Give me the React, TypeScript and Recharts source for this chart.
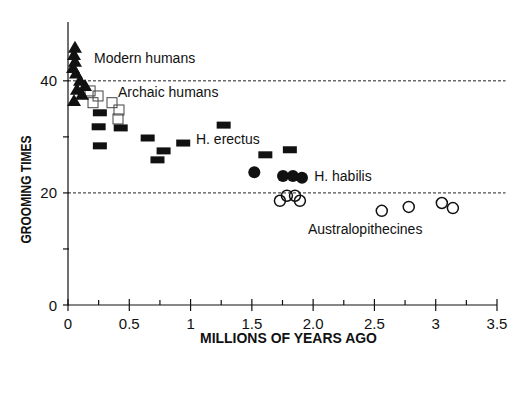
import { Label, ReferenceDot, ReferenceLine, Scatter, ScatterChart, XAxis, YAxis } from "recharts"

// millions of years ago / grooming time (% of day)
const modernHumans = [
  { x: 0.057, y: 45.9 },
  { x: 0.049, y: 44.6 },
  { x: 0.057, y: 43.4 },
  { x: 0.041, y: 42.3 },
  { x: 0.065, y: 41.3 },
  { x: 0.098, y: 40.0 },
  { x: 0.139, y: 39.1 },
  { x: 0.073, y: 38.4 },
  { x: 0.114, y: 37.5 },
  { x: 0.049, y: 36.4 },
]

const archaicHumans = [
  { x: 0.18, y: 38.2 },
  { x: 0.245, y: 37.3 },
  { x: 0.204, y: 36.1 },
  { x: 0.359, y: 36.1 },
  { x: 0.416, y: 34.8 },
  { x: 0.408, y: 33.2 },
]

const erectus = [
  { x: 0.26, y: 34.3 },
  { x: 0.25, y: 31.8 },
  { x: 0.43, y: 31.6 },
  { x: 0.26, y: 28.4 },
  { x: 0.65, y: 29.8 },
  { x: 0.94, y: 28.9 },
  { x: 0.78, y: 27.5 },
  { x: 0.73, y: 25.9 },
  { x: 1.27, y: 32.1 },
  { x: 1.61, y: 26.8 },
  { x: 1.81, y: 27.7 },
]

const habilis = [
  { x: 1.52, y: 23.7 },
  { x: 1.754, y: 23.0 },
  { x: 1.835, y: 23.0 },
  { x: 1.909, y: 22.7 },
]

const australopithecines = [
  { x: 1.729, y: 18.6 },
  { x: 1.786, y: 19.5 },
  { x: 1.852, y: 19.5 },
  { x: 1.892, y: 18.6 },
  { x: 2.56, y: 16.8 },
  { x: 2.78, y: 17.5 },
  { x: 3.05, y: 18.2 },
  { x: 3.14, y: 17.3 },
]

const groupLabels = ["Modern humans", "Archaic humans", "H. erectus", "H. habilis", "Australopithecines"]
const groupLabelX = [0.204, 0.4, 1.036, 2.0, 1.95]
const groupLabelY = [44.1, 38.0, 29.6, 23.0, 13.6]

const xTicks = [0, 0.25, 0.5, 0.75, 1, 1.25, 1.5, 1.75, 2, 2.25, 2.5, 2.75, 3, 3.25, 3.5]
const xTickValues = [0, 0.5, 1, 1.5, 2, 2.5, 3, 3.5]
const xTickLabels = ["0", "0.5", "1", "1.5", "2.0", "2.5", "3", "3.5"]
const yTicks = [0, 10, 20, 30, 40]
const yTickLabels = ["0", "20", "40"]
const guideLines = [40, 20]

const font = '"Liberation Sans", Arial, sans-serif'
const ink = "#111"

const Triangle = (props: any) => {
  const { cx, cy } = props
  return <polygon points={`${cx},${cy - 7} ${cx - 7},${cy + 5} ${cx + 7},${cy + 5}`} fill={ink} />
}

const OpenSquare = (props: any) => {
  const { cx, cy } = props
  return <rect x={cx - 5} y={cy - 5} width={10} height={10} fill="none" stroke="#444" strokeWidth={1} />
}

const Bar = (props: any) => {
  const { cx, cy } = props
  return <rect x={cx - 7} y={cy - 3.5} width={14} height={7} fill={ink} />
}

const FilledCircle = (props: any) => {
  const { cx, cy } = props
  return <circle cx={cx} cy={cy} r={6} fill={ink} />
}

const OpenCircle = (props: any) => {
  const { cx, cy } = props
  return <circle cx={cx} cy={cy} r={5.5} fill="none" stroke={ink} strokeWidth={1.5} />
}

const XTick = (props: any) => {
  const { x, y, payload } = props
  const i = xTickValues.indexOf(payload.value)
  const major = i >= 0
  return (
    <g>
      <line x1={x} x2={x} y1={major ? y - 6 : y - 5} y2={major ? y + 6 : y} stroke={ink} strokeWidth={1.2} />
      {major && (
        <text x={x} y={y + 18} textAnchor="middle" dominantBaseline="central" fontSize={15} fontFamily={font} fill={ink}>
          {xTickLabels[i]}
        </text>
      )}
    </g>
  )
}

const YTick = (props: any) => {
  const { x, y, payload } = props
  const label = yTickLabels.find((t) => Number(t) === payload.value)
  return (
    <g>
      <line x1={x - 5} x2={x + 1} y1={y} y2={y} stroke={ink} strokeWidth={1.2} />
      {label && (
        <text x={x - 11} y={y} textAnchor="end" dominantBaseline="central" fontSize={15} fontFamily={font} fill={ink}>
          {label}
        </text>
      )}
    </g>
  )
}

export default function App() {
  return (
    <ScatterChart width={514} height={381} margin={{ top: 14, right: 25, bottom: 34, left: 0 }}>
      <XAxis
        type="number"
        dataKey="x"
        domain={[0, 3.5]}
        ticks={xTicks}
        interval={0}
        tickSize={0}
        tickMargin={0}
        tickLine={false}
        tick={<XTick />}
        axisLine={{ stroke: ink, strokeWidth: 1.2 }}
        height={50}
      >
        <Label
          content={({ viewBox }: any) => (
            <text
              x={viewBox.x + viewBox.width / 2 + 6}
              y={viewBox.y + 33}
              textAnchor="middle"
              dominantBaseline="central"
              fontSize={14}
              fontWeight="bold"
              fontFamily={font}
              textLength={177}
              lengthAdjust="spacingAndGlyphs"
              fill={ink}
            >
              MILLIONS OF YEARS AGO
            </text>
          )}
        />
      </XAxis>
      <YAxis
        type="number"
        dataKey="y"
        domain={[0, 50.5]}
        ticks={yTicks}
        interval={0}
        tickSize={0}
        tickMargin={0}
        tickLine={false}
        tick={<YTick />}
        axisLine={{ stroke: ink, strokeWidth: 1.2 }}
        width={60}
      >
        <Label
          content={({ viewBox }: any) => {
            const cx = viewBox.x + 18
            const cy = viewBox.y + viewBox.height / 2 + 26
            return (
              <text
                x={cx}
                y={cy}
                transform={`rotate(-90, ${cx}, ${cy})`}
                textAnchor="middle"
                dominantBaseline="central"
                fontSize={14}
                fontWeight="bold"
                fontFamily={font}
                textLength={108}
                lengthAdjust="spacingAndGlyphs"
                fill={ink}
              >
                GROOMING TIMES
              </text>
            )
          }}
        />
      </YAxis>
      {guideLines.map((v) => (
        <ReferenceLine
          key={v}
          segment={[
            { x: 0, y: v },
            { x: 3.57, y: v },
          ]}
          ifOverflow="visible"
          stroke="#222"
          strokeWidth={1}
          strokeDasharray="3 2"
        />
      ))}
      <Scatter data={archaicHumans} shape={<OpenSquare />} isAnimationActive={false} />
      <Scatter data={erectus} shape={<Bar />} isAnimationActive={false} />
      <Scatter data={habilis} shape={<FilledCircle />} isAnimationActive={false} />
      <Scatter data={australopithecines} shape={<OpenCircle />} isAnimationActive={false} />
      <Scatter data={modernHumans} shape={<Triangle />} isAnimationActive={false} />
      {groupLabels.map((name, i) => (
        <ReferenceDot
          key={name}
          x={groupLabelX[i]}
          y={groupLabelY[i]}
          r={1}
          fill="none"
          stroke="none"
          ifOverflow="visible"
          label={{ value: name, position: "right", offset: 0, fill: ink, fontSize: 14, fontFamily: font }}
        />
      ))}
    </ScatterChart>
  )
}
